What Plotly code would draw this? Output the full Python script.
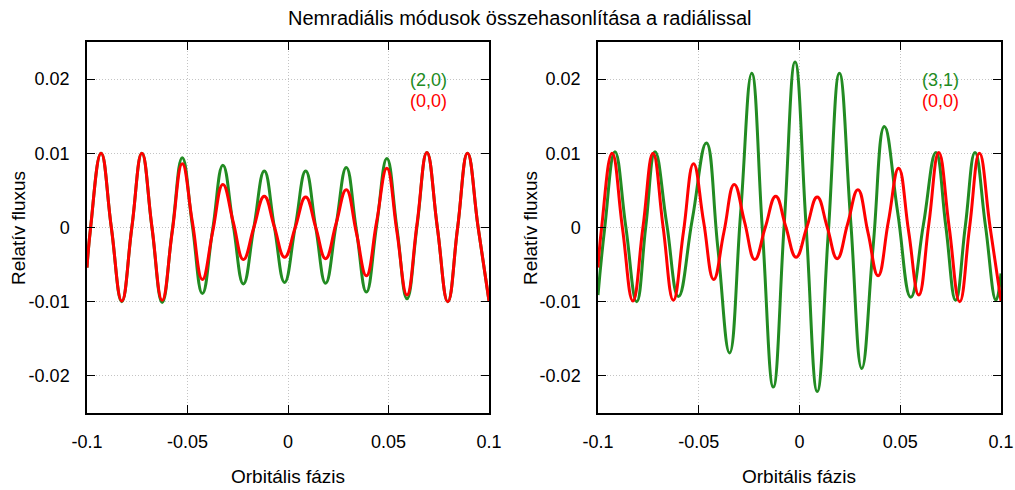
import plotly.graph_objects as go

# ---------------- data ----------------
title_text = "Nemradiális módusok összehasonlítása a radiálissal"
x_label = "Orbitális fázis"
y_label = "Relatív fluxus"

x_ticks = [-0.1, -0.05, 0, 0.05, 0.1]
x_tick_labels = ["-0.1", "-0.05", "0", "0.05", "0.1"]
y_ticks = [-0.02, -0.01, 0, 0.01, 0.02]
y_tick_labels = ["-0.02", "-0.01", "0", "0.01", "0.02"]

# radial mode (0,0) - extrema and crossings
radial_name = "(0,0)"
radial_x = [-0.1, -0.0982, -0.093, -0.0879, -0.0827, -0.0777, -0.0727, -0.0677, -0.0626,
            -0.0576, -0.0526, -0.0476, -0.0426, -0.0375, -0.0324, -0.0273, -0.0222,
            -0.017, -0.0118, -0.0068, -0.0017, 0.0036, 0.0088, 0.0138, 0.0187, 0.0239,
            0.029, 0.034, 0.039, 0.0441, 0.0492, 0.0542, 0.0592, 0.0642, 0.0691, 0.0743,
            0.0795, 0.0844, 0.0893, 0.0946, 0.1]
radial_y = [-0.0054, 0.0, 0.0100, 0.0, -0.0099, 0.0, 0.0100, 0.0001, -0.0098,
            -0.0006, 0.0086, 0.0008, -0.0070, -0.0006, 0.0058, 0.0008, -0.0043,
            0.0, 0.0042, 0.0001, -0.0040, 0.0, 0.0041, 0.0, -0.0042, 0.0005,
            0.0051, -0.0007, -0.0065, 0.0008, 0.0080, -0.0006, -0.0091, 0.0005, 0.0101, 0.0,
            -0.0100, 0.0, 0.0100, 0.0, -0.0099]

# non-radial mode (2,0)
mode20_name = "(2,0)"
mode20_x = [-0.1, -0.0982, -0.093, -0.0879, -0.0827, -0.0777, -0.0727, -0.0677, -0.0626,
            -0.0576, -0.0526, -0.0476, -0.0426, -0.0375, -0.0324, -0.0273, -0.0222,
            -0.017, -0.0118, -0.0068, -0.0017, 0.0036, 0.0088, 0.0138, 0.0187, 0.0239,
            0.029, 0.034, 0.039, 0.0441, 0.0492, 0.0542, 0.0592, 0.0642, 0.0691, 0.0743,
            0.0795, 0.0844, 0.0893, 0.0946, 0.1]
mode20_y = [-0.0054, 0.0, 0.0100, 0.0, -0.0100, 0.0, 0.0100, 0.0, -0.0101,
            -0.0004, 0.0094, 0.0003, -0.0089, -0.0003, 0.0084, 0.0004, -0.0076,
            0.0, 0.0076, 0.0001, -0.0074, 0.0001, 0.0076, 0.0, -0.0075, 0.0003,
            0.0081, -0.0003, -0.0087, 0.0003, 0.0093, -0.0001, -0.0096, 0.0002, 0.0101, 0.0,
            -0.0100, 0.0, 0.0100, 0.0, -0.0099]

# non-radial mode (3,1)
mode31_name = "(3,1)"
mode31_x = [-0.1, -0.0966, -0.0916, -0.0862, -0.0808, -0.0763, -0.0717, -0.0659, -0.0601,
            -0.0532, -0.0462, -0.0405, -0.0347, -0.0292, -0.0237, -0.0184, -0.0130,
            -0.0076, -0.0022, 0.0033, 0.0088, 0.0143, 0.0198, 0.0254, 0.0309, 0.0365,
            0.0421, 0.0487, 0.0552, 0.0615, 0.0677, 0.0726, 0.0775, 0.0823, 0.0871,
            0.0923, 0.0975, 0.1]
mode31_y = [-0.0091, 0.0001, 0.0102, 0.0001, -0.0100, 0.0001, 0.0102, 0.0005, -0.0093,
            0.0011, 0.0114, -0.0028, -0.0169, 0.0020, 0.0208, -0.0004, -0.0215,
            0.0004, 0.0223, 0.0001, -0.0221, -0.0007, 0.0208, 0.0009, -0.0190, -0.0027,
            0.0136, 0.0021, -0.0094, 0.0004, 0.0101, 0.0002, -0.0098, 0.0002, 0.0101,
            0.0002, -0.0098, -0.0062]

green = "#228b22"
red = "#ff0000"
font_family = "Liberation Sans, Arial, Helvetica, sans-serif"

fig = go.Figure()

def line(x, y, name, color, xa, ya):
    return go.Scatter(x=x, y=y, name=name, mode="lines",
                      line=dict(color=color, width=3, shape="spline", smoothing=1.3),
                      xaxis=xa, yaxis=ya, showlegend=False, hoverinfo="skip")

fig.add_trace(line(mode20_x, mode20_y, mode20_name, green, "x", "y"))
fig.add_trace(line(radial_x, radial_y, radial_name, red, "x", "y"))
fig.add_trace(line(mode31_x, mode31_y, mode31_name, green, "x2", "y2"))
fig.add_trace(line(radial_x, radial_y, radial_name, red, "x2", "y2"))

W, H = 1015, 490
left_dom = [87 / W, 489 / W]
right_dom = [598 / W, 1001 / W]
y_dom = [(H - 413) / H, (H - 42) / H]

axis_common = dict(
    showline=True, linecolor="black", linewidth=1.5, mirror="allticks",
    ticks="inside", ticklen=8, tickcolor="black", tickwidth=1,
    showgrid=True, gridcolor="#c4c4c4", griddash="1px,2px", gridwidth=1,
    zeroline=False, automargin=False,
    tickfont=dict(family=font_family, size=18, color="black"),
)

fig.update_layout(
    width=W, height=H,
    margin=dict(l=0, r=0, t=0, b=0, autoexpand=False),
    paper_bgcolor="white", plot_bgcolor="white",
    font=dict(family=font_family, color="black"),
    xaxis=dict(domain=left_dom, range=[-0.1, 0.1], tickvals=x_ticks, ticktext=x_tick_labels,
               anchor="y", ticklabelstandoff=12, **axis_common),
    yaxis=dict(domain=y_dom, range=[-0.025, 0.025], tickvals=y_ticks, ticktext=y_tick_labels,
               anchor="x", ticklabelstandoff=12, **axis_common),
    xaxis2=dict(domain=right_dom, range=[-0.1, 0.1], tickvals=x_ticks, ticktext=x_tick_labels,
                anchor="y2", ticklabelstandoff=12, **axis_common),
    yaxis2=dict(domain=y_dom, range=[-0.025, 0.025], tickvals=y_ticks, ticktext=y_tick_labels,
                anchor="x2", ticklabelstandoff=12, **axis_common),
)

ann = []
ann.append(dict(text=title_text, x=520 / W, y=1 - 18 / H, xref="paper", yref="paper",
                showarrow=False, font=dict(size=20, family=font_family, color="black"),
                xanchor="center", yanchor="middle"))
for cx in [288 / W, 799 / W]:
    ann.append(dict(text=x_label, x=cx, y=1 - 476 / H, xref="paper", yref="paper",
                    showarrow=False, font=dict(size=19, family=font_family, color="black"),
                    xanchor="center", yanchor="middle"))
for cx in [18 / W, 530 / W]:
    ann.append(dict(text=y_label, x=cx, y=1 - 228 / H, xref="paper", yref="paper",
                    showarrow=False, textangle=-90,
                    font=dict(size=19, family=font_family, color="black"),
                    xanchor="center", yanchor="middle"))
# key labels
keys = [(428, mode20_name, green), (428, radial_name, red),
        (940, mode31_name, green), (940, radial_name, red)]
for i, (cx, txt, col) in enumerate(keys):
    cy = 80 if i % 2 == 0 else 101
    ann.append(dict(text=txt, x=cx / W, y=1 - cy / H, xref="paper", yref="paper",
                    showarrow=False, font=dict(size=18, family=font_family, color=col),
                    xanchor="center", yanchor="middle"))
fig.update_layout(annotations=ann)

fig.write_html("out.html")
